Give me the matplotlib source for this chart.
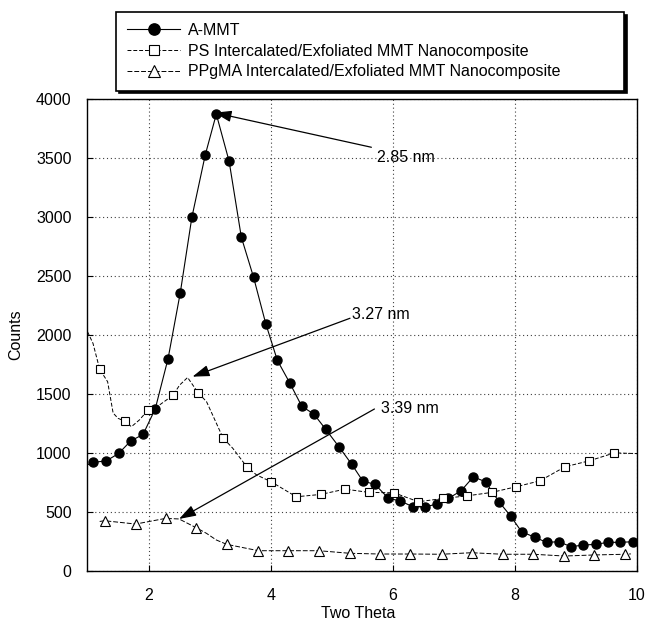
import matplotlib
matplotlib.use("Agg")
import matplotlib.pyplot as plt
from matplotlib.lines import Line2D

plt.rcParams['font.family'] = ['Liberation Sans', 'DejaVu Sans']
plt.rcParams['font.size'] = 11.5

# ---------------- DATA ----------------
# A-MMT: markers and the trace through them
ammt_x = [1.09, 1.31, 1.51, 1.71, 1.91, 2.11, 2.32, 2.52, 2.71, 2.93, 3.11, 3.32,
          3.52, 3.72, 3.92, 4.11, 4.31, 4.51, 4.71, 4.90, 5.12, 5.33, 5.51, 5.71,
          5.93, 6.12, 6.33, 6.53, 6.72, 6.91, 7.12, 7.32, 7.52, 7.74, 7.93, 8.11,
          8.33, 8.52, 8.72, 8.92, 9.12, 9.33, 9.52, 9.72, 9.93]
ammt_y = [920, 934, 996, 1103, 1157, 1374, 1800, 2358, 2998, 3528, 3872, 3472,
          2829, 2490, 2096, 1785, 1597, 1396, 1329, 1202, 1052, 903, 762, 734,
          615, 595, 544, 544, 567, 615, 680, 798, 756, 587, 466, 333,
          285, 243, 248, 206, 220, 226, 243, 243, 248]
ammt_line_x = [1.0] + ammt_x
ammt_line_y = [900] + ammt_y

# PS intercalated/exfoliated
ps_x = [1.20, 1.61, 1.99, 2.40, 2.81, 3.22, 3.61, 4.01, 4.42, 4.82, 5.22, 5.61,
        6.02, 6.42, 6.83, 7.22, 7.62, 8.02, 8.41, 8.82, 9.22, 9.63]
ps_y = [1710, 1270, 1363, 1489, 1512, 1128, 883, 756, 629, 649, 694, 666,
        663, 587, 615, 637, 666, 714, 764, 883, 934, 1001]
ps_line_x = [1.0, 1.09, 1.14, 1.20, 1.33, 1.42, 1.50, 1.61, 1.72, 1.85, 1.99, 2.18,
             2.40, 2.51, 2.64, 2.81, 2.95, 3.05, 3.22, 3.38, 3.61, 3.77, 4.01, 4.42,
             4.82, 5.22, 5.61, 6.02, 6.42, 6.83, 7.22, 7.62, 8.02, 8.41, 8.82, 9.22,
             9.63, 10.0]
ps_line_y = [2028, 1930, 1830, 1710, 1604, 1339, 1294, 1270, 1223, 1280, 1363, 1407,
             1489, 1576, 1640, 1512, 1435, 1322, 1128, 1040, 883, 814, 756, 629,
             649, 694, 666, 663, 587, 615, 637, 666, 714, 764, 883, 934,
             1001, 995]

# PPgMA intercalated/exfoliated
pp_x = [1.28, 1.79, 2.28, 2.78, 3.28, 3.80, 4.29, 4.79, 5.30, 5.79, 6.28, 6.80,
        7.29, 7.80, 8.30, 8.81, 9.30, 9.81]
pp_y = [426, 398, 446, 367, 226, 172, 172, 172, 150, 144, 144, 142,
        155, 142, 142, 127, 136, 142]
pp_line_x = [1.20, 1.28, 1.79, 2.28, 2.50, 2.78, 2.95, 3.11, 3.28, 3.80, 4.29, 4.79,
             5.30, 5.79, 6.28, 6.80, 7.29, 7.80, 8.30, 8.81, 9.30, 9.81, 9.90]
pp_line_y = [420, 426, 398, 446, 441, 367, 319, 263, 226, 172, 172, 172,
             150, 144, 144, 142, 155, 142, 142, 127, 136, 142, 145]

labels = ["A-MMT",
          "PS Intercalated/Exfoliated MMT Nanocomposite",
          "PPgMA Intercalated/Exfoliated MMT Nanocomposite"]

# d-spacing callouts: label, text pos, arrow start, arrow tip
notes = ["2.85 nm", "3.27 nm", "3.39 nm"]
note_pos = [(5.74, 3503), (5.33, 2178), (5.81, 1379)]
note_from = [(5.65, 3591), (5.30, 2142), (5.70, 1373)]
note_to = [(3.08, 3884), (2.72, 1647), (2.50, 441)]

# ---------------- PLOT ----------------
fig = plt.figure(figsize=(6.47, 6.27), dpi=100)
ax = fig.add_axes([0.1352, 0.0893, 0.8493, 0.7528])

ax.plot(ammt_line_x, ammt_line_y, color="black", lw=0.8)
ax.plot(ammt_x, ammt_y, "o", ls="none", color="black", ms=6.5, zorder=3)

ax.plot(ps_line_x, ps_line_y, color="black", lw=0.7, ls=(0, (4, 2)))
ax.plot(ps_x, ps_y, "s", ls="none", mfc="white", mec="black", mew=0.8, ms=6, zorder=3)

ax.plot(pp_line_x, pp_line_y, color="black", lw=0.7, ls=(0, (5, 2)))
ax.plot(pp_x, pp_y, "^", ls="none", mfc="white", mec="black", mew=0.8, ms=6.5, zorder=3)

for txt, pos, start, tip in zip(notes, note_pos, note_from, note_to):
    ax.annotate("", xy=tip, xytext=start,
                arrowprops=dict(arrowstyle="-|>,head_length=0.9,head_width=0.3",
                                color="black", lw=0.9, shrinkA=0, shrinkB=0))
    ax.text(pos[0], pos[1], txt, ha="left", va="center")

ax.set_xlim(1, 10)
ax.set_ylim(0, 4000)
ax.set_xticks([2, 4, 6, 8, 10])
ax.set_yticks(range(0, 4001, 500))
ax.tick_params(direction="in", length=4, width=0.8)
ax.tick_params(axis="y", pad=11.5)
ax.tick_params(axis="x", pad=12.5)
ax.grid(True, color="0.25", lw=0.8, ls=(0, (1, 2.5)))
for s in ax.spines.values():
    s.set_linewidth(1.0)

ax.set_xlabel("Two Theta")
ax.xaxis.label.set_va("center")
ax.xaxis.set_label_coords(0.493, -0.091)
ax.set_ylabel("Counts")
ax.yaxis.label.set_va("center")
ax.yaxis.set_label_coords(-0.131, 0.5)

# ---------------- LEGEND ----------------
handles = [
    Line2D([], [], color="black", lw=0.8, marker="o", ms=6.5),
    Line2D([], [], color="black", lw=0.7, ls=(0, (4, 2)), marker="s",
           mfc="white", mec="black", mew=0.8, ms=6),
    Line2D([], [], color="black", lw=0.7, ls=(0, (5, 2)), marker="^",
           mfc="white", mec="black", mew=0.8, ms=6.5),
]
leg = fig.legend(handles, labels, loc="upper left",
                 bbox_to_anchor=(116 / 647, 0.8596, (624 - 116) / 647, 0.1217),
                 mode="expand", borderaxespad=0, fancybox=False,
                 shadow={"color": "black", "alpha": 1},
                 handlelength=3.3, handletextpad=0.5, borderpad=0.7,
                 labelspacing=0.36, markerscale=1.25)
leg.get_frame().set_edgecolor("black")
leg.get_frame().set_linewidth(1.2)

plt.savefig("out.png", dpi=100)
plt.close()
